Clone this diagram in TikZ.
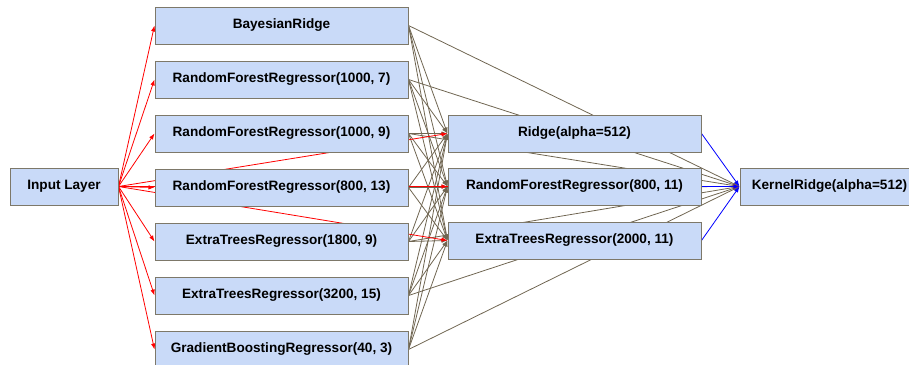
\documentclass[tikz,border=0pt]{standalone}
\usepackage{fontspec}
\setmainfont{Liberation Sans}
\usetikzlibrary{arrows.meta,backgrounds}
\definecolor{boxfill}{RGB}{201,218,248}
\definecolor{boxline}{RGB}{125,120,105}
\definecolor{linkolive}{RGB}{112,102,82}
\tikzset{
    model/.style = {draw = boxline, fill = boxfill, line width = 1pt, minimum width = 253pt,
        minimum height = 37pt, inner sep = 0pt, font = \fontsize{13.6}{16}\selectfont\bfseries},
    feed/.style = {-{Latex[length=6pt,width=4.5pt]}, line width = .8pt},
}
\begin{document}
\begin{tikzpicture}[x = 1pt, y = -1pt]
            \useasboundingbox (0,0) rectangle (909,364);

            % Draw the input layer:
            \node [model, minimum width = 108pt] (Input) at (64,186.5) {Input Layer};

            % Draw the first layer of regressors:
            \foreach \name/\txt [count = \i from 0] in {Bayes/BayesianRidge,
                    ForestA/{RandomForestRegressor(1000, 7)}, ForestB/{RandomForestRegressor(1000, 9)},
                    ForestC/{RandomForestRegressor(800, 13)}, TreesA/{ExtraTreesRegressor(1800, 9)},
                    TreesB/{ExtraTreesRegressor(3200, 15)}, Boost/{GradientBoostingRegressor(40, 3)}}
                \node [model] (\name) at (281.5,{25.5 + 54*\i}) {\txt};

            % Draw the second layer:
            \node [model] (Ridge)   at (574.5,133.5) {Ridge(alpha=512)};
            \node [model] (ForestD) at (574.5,186.5) {RandomForestRegressor(800, 11)};
            \node [model] (TreesC)  at (574.5,240.5) {ExtraTreesRegressor(2000, 11)};

            % Draw the output model:
            \node [model, minimum width = 179pt] (Kernel) at (829.5,186.5) {KernelRidge(alpha=512)};

            % Draw the links behind the boxes:
            \begin{scope}[on background layer]
                \foreach \source in {Bayes, ForestA, ForestB, ForestC, TreesA, TreesB, Boost}
                    \foreach \target in {Ridge, ForestD, TreesC, Kernel}
                        \draw [feed, linkolive] (\source.east) -- (\target.west);
                \foreach \target in {Bayes, ForestA, ForestB, ForestC, TreesA, TreesB, Boost,
                        Ridge, ForestD, TreesC, Kernel}
                    \draw [feed, red] (Input.east) -- (\target.west);
                \foreach \source in {Ridge, ForestD, TreesC}
                    \draw [feed, blue] (\source.east) -- (Kernel.west);
            \end{scope}
        \end{tikzpicture}
\end{document}
